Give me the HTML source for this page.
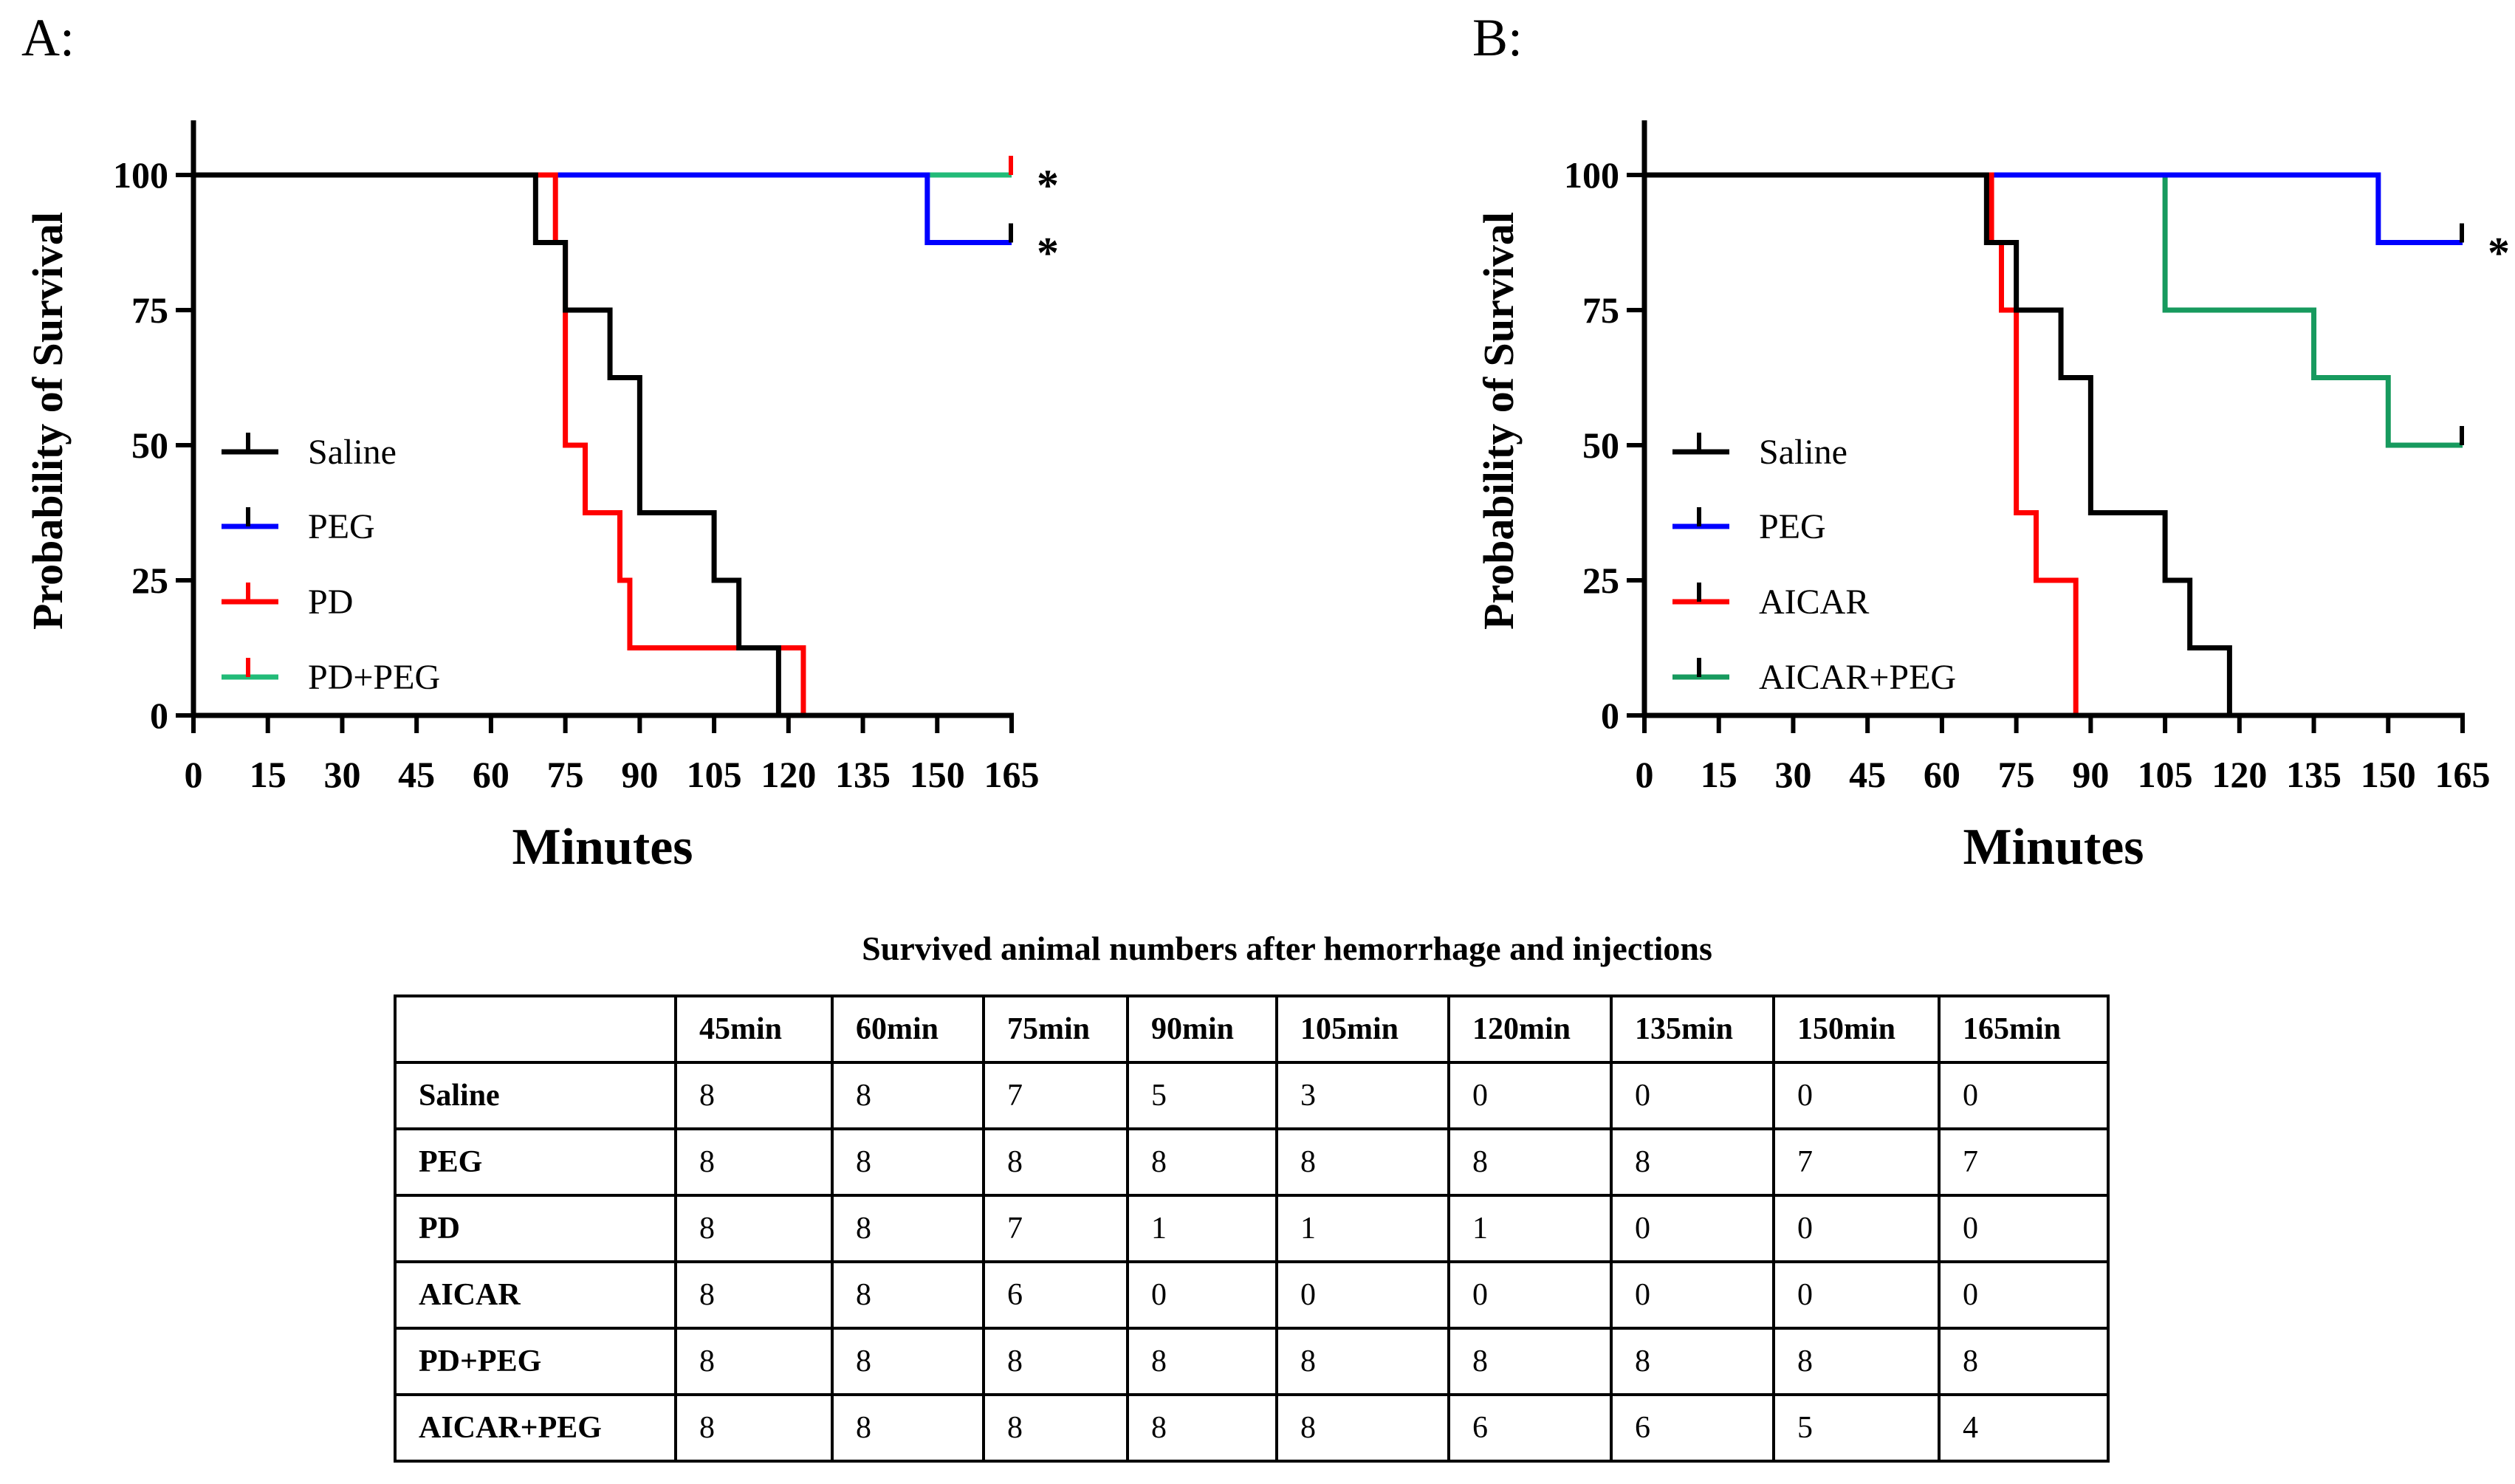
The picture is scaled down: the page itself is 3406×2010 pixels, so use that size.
<!DOCTYPE html>
<html><head><meta charset="utf-8">
<style>
html,body{margin:0;padding:0;background:#fff;}
body{width:3406px;height:2010px;position:relative;overflow:hidden;font-family:"Liberation Serif",serif;}
svg{position:absolute;left:0;top:0;}
#tbl{position:absolute;left:533px;top:1347px;border-collapse:collapse;font-family:"Liberation Serif",serif;font-size:42px;table-layout:fixed;width:2320px;}
#tbl tr{height:90px;}
#tbl td{border:4px solid #000;height:90px;padding:0 0 0 30px;text-align:left;vertical-align:middle;box-sizing:border-box;}
#tbl tr:first-child td, #tbl td:first-child{font-weight:bold;}
.title{position:absolute;left:0;width:3486px;top:1258px;text-align:center;font-weight:bold;font-size:46px;}
</style></head>
<body>
<svg id="chart" width="3406" height="1250" xmlns="http://www.w3.org/2000/svg"></svg>
<div class="title">Survived animal numbers after hemorrhage and injections</div>
<table id="tbl">
<colgroup><col style="width:380px"><col style="width:212px"><col style="width:205px"><col style="width:195px"><col style="width:202px"><col style="width:233px"><col style="width:220px"><col style="width:220px"><col style="width:224px"><col style="width:229px"></colgroup>
<tr><td></td><td>45min</td><td>60min</td><td>75min</td><td>90min</td><td>105min</td><td>120min</td><td>135min</td><td>150min</td><td>165min</td></tr>
<tr><td>Saline</td><td>8</td><td>8</td><td>7</td><td>5</td><td>3</td><td>0</td><td>0</td><td>0</td><td>0</td></tr>
<tr><td>PEG</td><td>8</td><td>8</td><td>8</td><td>8</td><td>8</td><td>8</td><td>8</td><td>7</td><td>7</td></tr>
<tr><td>PD</td><td>8</td><td>8</td><td>7</td><td>1</td><td>1</td><td>1</td><td>0</td><td>0</td><td>0</td></tr>
<tr><td>AICAR</td><td>8</td><td>8</td><td>6</td><td>0</td><td>0</td><td>0</td><td>0</td><td>0</td><td>0</td></tr>
<tr><td>PD+PEG</td><td>8</td><td>8</td><td>8</td><td>8</td><td>8</td><td>8</td><td>8</td><td>8</td><td>8</td></tr>
<tr><td>AICAR+PEG</td><td>8</td><td>8</td><td>8</td><td>8</td><td>8</td><td>6</td><td>6</td><td>5</td><td>4</td></tr>
</table>
<script>
const xTicks=[0,15,30,45,60,75,90,105,120,135,150,165];
const yTicks=[0,25,50,75,100];
// Panel A series: step times and survival values
const salineTimes=[0,69,75,84,90,105,110,118];
const salineVals=[100,87.5,75,62.5,37.5,25,12.5,0];
const pegATimes=[0,148];
const pegAVals=[100,87.5];
const pdTimes=[0,73,75,79,86,88,123];
const pdVals=[100,87.5,50,37.5,25,12.5,0];
const pdPegTimes=[0];
const pdPegVals=[100];
// Panel B series
const salineBTimes=[0,69,75,84,90,105,110,118];
const salineBVals=[100,87.5,75,62.5,37.5,25,12.5,0];
const pegBTimes=[0,148];
const pegBVals=[100,87.5];
const aicarTimes=[0,70,72,75,79,87];
const aicarVals=[100,87.5,75,37.5,25,0];
const aicarPegTimes=[0,105,135,150];
const aicarPegVals=[100,75,62.5,50];

const NS="http://www.w3.org/2000/svg";
const svg=document.getElementById('chart');
function mk(tag,attrs,parent){const e=document.createElementNS(NS,tag);for(const k in attrs)e.setAttribute(k,attrs[k]);(parent||svg).appendChild(e);return e;}

function panel(ox,label,series,legend,stars){
  const x0=ox, x1=ox+1108, yTop=163, y0=969, y100=237;
  const sx=t=>x0+(t/165)*(x1-x0);
  const sy=v=>y0+(v/100)*(y100-y0);
  const g=mk('g',{});
  
  
  const pl=mk('text',{x:ox-233,y:75,'font-size':72,'font-family':'Liberation Serif'},g);
  pl.textContent=label+':';
  
  
  series.forEach(s=>{
    let d='';
    for(let k=0;k<s.t.length;k++){
      const xs=sx(s.t[k]), ys=sy(s.v[k]);
      const xe=k+1<s.t.length?sx(s.t[k+1]):sx(s.end);
      d+=(k===0?'M':'L')+xs+' '+ys+' L'+xe+' '+ys+' ';
      if(k+1<s.t.length) d+='L'+xe+' '+sy(s.v[k+1])+' ';
    }
    const p=mk('path',{d:d,fill:'none',stroke:s.color,'stroke-width':7,'stroke-linejoin':'miter'},g);
    
    
    if(s.censor){
      const lv=s.v[s.v.length-1];
      const c=mk('line',{x1:sx(165)-1,x2:sx(165)-1,y1:sy(lv)-26,y2:sy(lv),stroke:s.censorColor,'stroke-width':6},g);
      
      
    }
  });
  const ya=mk('line',{x1:x0,x2:x0,y1:yTop,y2:y0+3,stroke:'#000','stroke-width':7},g);
  
  
  const xa=mk('line',{x1:x0-3,x2:x1+3,y1:y0,y2:y0,stroke:'#000','stroke-width':7},g);
  
  
  xTicks.forEach(t=>{
    const tk=mk('line',{x1:sx(t),x2:sx(t),y1:y0,y2:y0+24,stroke:'#000','stroke-width':6},g);
    
    
    const tl=mk('text',{x:sx(t),y:1066,'text-anchor':'middle','font-size':50,'font-weight':'bold','font-family':'Liberation Serif'},g);
    tl.textContent=t;
    
    
  });
  yTicks.forEach(v=>{
    const tk=mk('line',{x1:x0-24,x2:x0,y1:sy(v),y2:sy(v),stroke:'#000','stroke-width':6},g);
    
    
    const tl=mk('text',{x:x0-34,y:sy(v)+17,'text-anchor':'end','font-size':50,'font-weight':'bold','font-family':'Liberation Serif'},g);
    tl.textContent=v;
    
    
  });
  const yt=mk('text',{x:0,y:0,'text-anchor':'middle','font-size':58,'font-weight':'bold','font-family':'Liberation Serif',transform:'translate('+(ox-178)+',570) rotate(-90)'},g);
  yt.textContent='Probability of Survival';
  
  
  const xt=mk('text',{x:(x0+x1)/2,y:1170,'text-anchor':'middle','font-size':70,'font-weight':'bold','font-family':'Liberation Serif'},g);
  xt.textContent='Minutes';
  
  
  const ly=[612,713,815,917];
  legend.forEach((L,i)=>{
    const lg=mk('g',{},g);
    
    
    mk('line',{x1:ox+38,x2:ox+115,y1:ly[i],y2:ly[i],stroke:L.color,'stroke-width':7},lg);
    mk('line',{x1:ox+74,x2:ox+74,y1:ly[i]-26,y2:ly[i],stroke:L.tick,'stroke-width':6},lg);
    const t=mk('text',{x:ox+155,y:ly[i]+16,'font-size':48,'font-family':'Liberation Serif'},lg);
    t.textContent=L.name;
  });
  stars.forEach(s=>{
    const st=mk('text',{x:x1+34,y:sy(s)+34,'font-size':60,'font-weight':'bold','font-family':'Liberation Serif'},g);
    st.textContent='*';
    
    
  });
}
const GA='#22bb78', GB='#179a5e';
panel(262,'A',[
  {key:'pd-peg',t:pdPegTimes,v:pdPegVals,end:165,color:GA,censor:true,censorColor:'#ff0000'},
  {key:'peg',t:pegATimes,v:pegAVals,end:165,color:'#0000ff',censor:true,censorColor:'#000'},
  {key:'pd',t:pdTimes,v:pdVals,end:pdTimes[pdTimes.length-1],color:'#ff0000'},
  {key:'saline',t:salineTimes,v:salineVals,end:salineTimes[salineTimes.length-1],color:'#000'}
],[{name:'Saline',color:'#000',tick:'#000'},{name:'PEG',color:'#0000ff',tick:'#000'},{name:'PD',color:'#ff0000',tick:'#ff0000'},{name:'PD+PEG',color:GA,tick:'#ff0000'}],[100,87.5]);
panel(2227,'B',[
  {key:'aicar-peg',t:aicarPegTimes,v:aicarPegVals,end:165,color:GB,censor:true,censorColor:'#000'},
  {key:'peg',t:pegBTimes,v:pegBVals,end:165,color:'#0000ff',censor:true,censorColor:'#000'},
  {key:'aicar',t:aicarTimes,v:aicarVals,end:aicarTimes[aicarTimes.length-1],color:'#ff0000'},
  {key:'saline',t:salineBTimes,v:salineBVals,end:salineBTimes[salineBTimes.length-1],color:'#000'}
],[{name:'Saline',color:'#000',tick:'#000'},{name:'PEG',color:'#0000ff',tick:'#000'},{name:'AICAR',color:'#ff0000',tick:'#000'},{name:'AICAR+PEG',color:GB,tick:'#000'}],[87.5]);
</script>
</body></html>
